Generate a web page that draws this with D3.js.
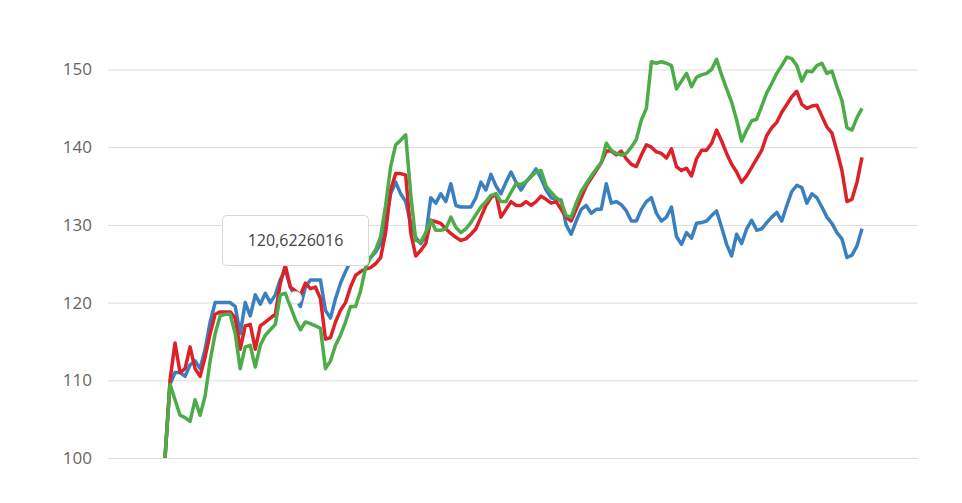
<!DOCTYPE html>
<html>
<head>
<meta charset="utf-8">
<script src="https://cdn.jsdelivr.net/npm/d3@7/dist/d3.min.js"></script>
<style>
  html, body { margin: 0; padding: 0; background: #fff; }
  svg { display: block; }
  text { font-family: "Open Sans", "Noto Sans", sans-serif; }
</style>
</head>
<body>
<svg id="chart" width="962" height="503"></svg>
<script>
const yTicks = [100, 110, 120, 130, 140, 150];

const blueSeries = [
  100, 109.5, 111, 111, 110.5, 112, 112.5, 111.5, 114, 117.5,
  120, 120, 120, 120, 119.5, 116, 120, 118.3, 121, 119.8,
  121.2, 120, 121, 123, 124.2, 122, 120.6226016, 119.5, 122, 122.9,
  122.9, 122.9, 119, 118, 120.5, 122.5, 124, 125.3, 126.5, 125,
  125.5, 125.8, 126.5, 127.6, 130.5, 134, 135.5, 134, 133, 130.2,
  128.4, 127.6, 128.5, 133.5, 132.8, 134, 133, 135.3, 132.5, 132.3,
  132.3, 132.3, 133.5, 135.5, 134.5, 136.5, 135, 134, 135.5, 136.8,
  135.5, 134.5, 135.5, 136.3, 137.2, 136, 134.5, 133.5, 133.3, 133.2,
  130, 128.8, 130.5, 132, 132.5, 131.5, 132, 132, 135.3, 132.8,
  133, 132.6, 131.8, 130.5, 130.5, 132, 133, 133.5, 131.5, 130.5,
  131, 132.3, 128.5, 127.5, 129, 128.3, 130.2, 130.3, 130.5, 131.2,
  131.8, 129.7, 127.5, 126, 128.8, 127.6, 129.5, 130.6, 129.3, 129.5,
  130.3, 131, 131.6, 130.5, 132.5, 134.3, 135.1, 134.8, 132.8, 134,
  133.5, 132.3, 131, 130.2, 129, 128.2, 125.8, 126.1, 127.3, 129.5
];

const redSeries = [
  100, 110, 114.8, 111, 111.5, 114.3, 111.5, 110.5, 113, 116,
  118.5, 118.8, 118.8, 118.8, 118, 114, 117, 117.2, 114, 117,
  117.5, 118, 118.5, 122.5, 124.8, 122, 121.5, 121, 122.5, 121.8,
  122, 120.5, 115.3, 115.5, 117.5, 119, 120, 122, 123.5, 124,
  124.3, 124.5, 125, 125.8, 129, 134.5, 136.6, 136.6, 136.4, 129,
  126, 126.7, 127.6, 130.6, 130.4, 130.2, 129.5, 128.9, 128.4, 128,
  128.2, 128.8, 129.5, 131, 132.5, 133.5, 134, 131, 132, 133,
  132.5, 132.5, 133, 132.5, 133, 133.7, 133.3, 132.8, 133, 132,
  131, 130.5, 132, 133.5, 135, 136, 137, 138, 139.5, 139.5,
  139, 139.5, 138.5, 137.8, 137.5, 139, 140.3, 140, 139.4, 139.2,
  138.6, 139.8, 137.5, 137, 137.3, 136.3, 138.5, 139.6, 139.6, 140.5,
  142.2, 140.8, 139.2, 137.8, 136.8, 135.5, 136.3, 137.4, 138.5, 139.6,
  141.5, 142.5, 143.2, 144.5, 145.5, 146.5, 147.2, 145.5, 145, 145.3,
  145.4, 144, 142.6, 141.8, 139.5, 137, 133, 133.3, 135.5, 138.7
];

const greenSeries = [
  100, 109.5, 107.5, 105.5, 105.2, 104.7, 107.5, 105.5, 108, 112.5,
  116, 118.3, 118.5, 118.5, 116, 111.5, 114.3, 114.5, 111.7, 114.5,
  115.8, 116.5, 117.2, 121, 121.2, 119.5, 117.8, 116.5, 117.5, 117.3,
  117, 116.7, 111.5, 112.5, 114.5, 115.8, 117.5, 119.5, 119.5, 121.5,
  124.5, 125.8, 126.8, 128.5, 132.5, 137.5, 140.3, 140.9, 141.6, 134,
  128, 127.8, 129, 130.6, 129.3, 129.3, 129.5, 131, 129.7, 129,
  129.5, 130.3, 131.3, 132.3, 133, 133.8, 134, 133, 133, 134.2,
  135.3, 135.2, 135.6, 136.2, 136.8, 137, 135, 134.2, 133.5, 133,
  131.2, 131, 132.8, 134.3, 135.3, 136.3, 137.2, 138, 140.5, 139.6,
  139.2, 139, 139.2, 140, 141, 143.5, 145, 151, 150.8, 151,
  150.8, 150.5, 147.5, 148.5, 149.5, 147.8, 149, 149.3, 149.5, 150,
  151.3, 149.3, 147.5, 145.8, 143.5, 140.8, 142.2, 143.4, 143.6, 145.3,
  147, 148.2, 149.5, 150.5, 151.6, 151.4, 150.5, 148.5, 149.8, 149.7,
  150.5, 150.8, 149.5, 149.8, 147.8, 146, 142.5, 142.2, 143.8, 145
];

const seriesColors = ["#3a7fc0", "#de2128", "#4cad48"];
const tooltipIndex = 26;
const tooltipLabel = "120,6226016";

const svg = d3.select("#chart");
const n = blueSeries.length;

const x = d3.scaleLinear().domain([0, n - 1]).range([165, 862]);
const y = d3.scaleLinear().domain([100, 150]).range([458, 69.5]);

const yAxis = d3.axisLeft(y)
  .tickValues(yTicks)
  .tickSize(-(918 - 108))
  .tickPadding(16)
  .tickFormat(d3.format("d"));

const gAxis = svg.append("g")
  .attr("transform", "translate(108,0)")
  .call(yAxis);
gAxis.select(".domain").remove();
gAxis.selectAll(".tick line").attr("stroke", "#dcdcdc").attr("stroke-width", 1);
gAxis.selectAll(".tick text")
  .attr("fill", "#666")
  .style("font-size", "17px");

const line = d3.line()
  .x((d, i) => x(i))
  .y(d => y(d));

[blueSeries, redSeries, greenSeries].forEach((s, k) => {
  svg.append("path")
    .datum(s)
    .attr("fill", "none")
    .attr("stroke", seriesColors[k])
    .attr("stroke-width", 3.5)
    .attr("stroke-linejoin", "round")
    .attr("d", line);
});

const mx = x(tooltipIndex), my = y(blueSeries[tooltipIndex]);
svg.append("circle")
  .attr("cx", mx).attr("cy", my).attr("r", 6)
  .attr("fill", "#fff").attr("stroke", "#e4e4e4").attr("stroke-width", 1.5);

const tip = svg.append("g");
tip.append("rect")
  .attr("x", 222.5).attr("y", 215.5).attr("width", 146).attr("height", 50)
  .attr("rx", 4).attr("fill", "#fff").attr("stroke", "#d8d8d8");
tip.append("text")
  .attr("x", 295.5).attr("y", 246)
  .attr("text-anchor", "middle")
  .attr("fill", "#444")
  .style("font-size", "16px")
  .text(tooltipLabel);
</script>
</body>
</html>
